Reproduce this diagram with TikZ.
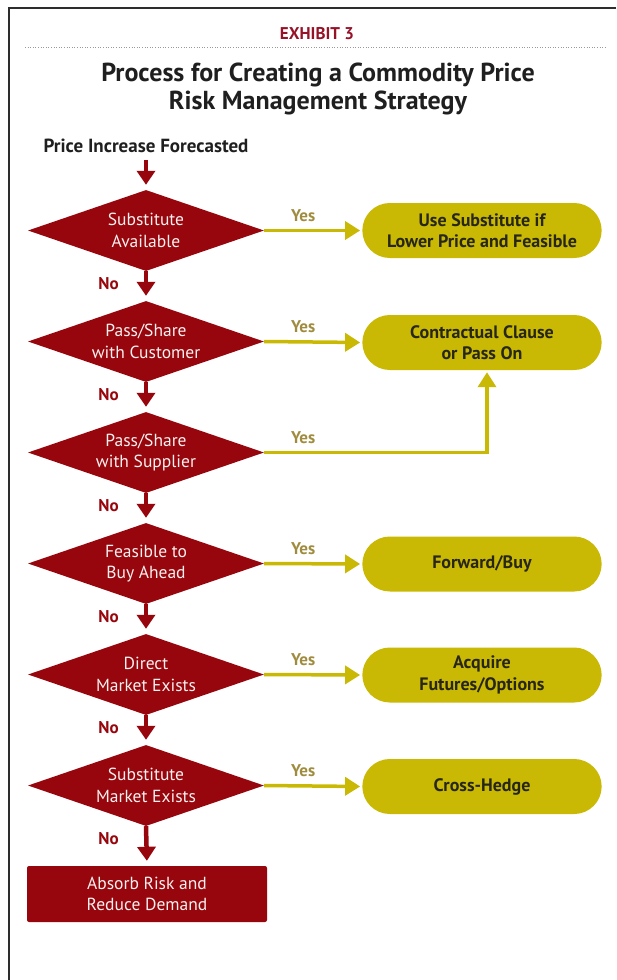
\documentclass[tikz,border=0pt]{standalone}
\usepackage{fontspec}
\setmainfont{PT Sans}
\usetikzlibrary{shapes.geometric,shapes.misc,arrows.meta}
\definecolor{riskred}{RGB}{150,6,12}
\definecolor{gold}{RGB}{201,185,4}
\definecolor{yesgold}{RGB}{160,140,62}
\definecolor{boxtext}{RGB}{40,38,22}
\definecolor{frame}{RGB}{45,45,45}
\definecolor{exhibit}{RGB}{150,18,40}
\tikzset{
  decision/.style={shape=diamond, fill=riskred, draw=none, inner sep=0pt,
    aspect=2.9, minimum width=236pt, minimum height=81pt,
    text=white!94!riskred, align=center, font=\fontsize{17.5}{21.5}\selectfont},
  outcome/.style={rounded rectangle, fill=gold, draw=none,
    minimum width=246pt, minimum height=55pt, text=boxtext, align=center,
    font=\bfseries\fontsize{18}{21.5}\selectfont},
  endbox/.style={rectangle, rounded corners=2pt, fill=riskred, draw=none,
    minimum width=240pt, minimum height=56pt, text=white!94!riskred,
    align=center, font=\fontsize{17.5}{21.5}\selectfont},
  noarrow/.style={draw=riskred, line width=4.5pt,
    -{Triangle[width=18pt,length=14pt]}, shorten >=5pt},
  yesarrow/.style={draw=gold, line width=3.5pt,
    -{Triangle[width=18pt,length=15pt]}, shorten >=2pt},
  nolabel/.style={text=riskred, font=\bfseries\fontsize{17}{18}\selectfont},
  yeslabel/.style={text=yesgold, font=\bfseries\fontsize{17}{18}\selectfont},
}
\begin{document}
\begin{tikzpicture}[x=1pt,y=-1pt]
\useasboundingbox (0,0) rectangle (616,980);
% frame
\draw[frame, line width=1.6pt] (616,8) -- (9,8) -- (9,980);
% header
\node[text=exhibit, font=\bfseries\fontsize{17}{18}\selectfont] (exhibit) at (317,34) {EXHIBIT 3};
\draw[gray!80, line width=1pt, dash pattern=on 1pt off 1.6pt] (25,47) -- (607,47);
\node[text=black!88, align=center, font=\bfseries\fontsize{26}{28}\selectfont] (title) at (318,89)
  {Process for Creating a Commodity Price\\Risk Management Strategy};
\node[text=black!88, font=\bfseries\fontsize{19}{20}\selectfont] (start) at (146,146) {Price Increase Forecasted};

% decisions
\node[decision] (d1) at (146,230.5) {Substitute\\Available};
\node[decision] (d2) at (146,341.5) {Pass/Share\\with Customer};
\node[decision] (d3) at (146,452.5) {Pass/Share\\with Supplier};
\node[decision] (d4) at (146,563.5) {Feasible to\\Buy Ahead};
\node[decision] (d5) at (146,674.5) {Direct\\Market Exists};
\node[decision] (d6) at (146,785.5) {Substitute\\Market Exists};
\node[endbox] (absorb) at (147,894) {Absorb Risk and\\Reduce Demand};

% outcomes
\node[outcome] (o1) at (482,230.5) {Use Substitute if\\Lower Price and Feasible};
\node[outcome] (o2) at (482,342.5) {Contractual Clause\\or Pass On};
\node[outcome] (o4) at (482,564) {Forward/Buy};
\node[outcome] (o5) at (482,675) {Acquire\\Futures/Options};
\node[outcome] (o6) at (482,786.5) {Cross-Hedge};

% "No" path
\draw[noarrow] (start.south) ++(0,4) coordinate (s0) -- (d1.north);
\draw[noarrow] (d1.south) -- (d2.north);
\draw[noarrow] (d2.south) -- (d3.north);
\draw[noarrow] (d3.south) -- (d4.north);
\draw[noarrow] (d4.south) -- (d5.north);
\draw[noarrow] (d5.south) -- (d6.north);
\draw[noarrow] (d6.south) -- (absorb.north);
\foreach \d in {1,...,6} {
  \node[nolabel] (no\d) at ([xshift=-37.5pt,yshift=-12.5pt]d\d.south) {No};
}

% "Yes" path
\draw[yesarrow] (d1.east) -- (o1.west);
\draw[yesarrow] (d2.east) -- (o2.west);
\draw[yesarrow] (d3.east) -| ([xshift=5pt]o2.south);
\draw[yesarrow] (d4.east) -- (o4.west);
\draw[yesarrow] (d5.east) -- (o5.west);
\draw[yesarrow] (d6.east) -- (o6.west);
\foreach \d in {1,...,6} {
  \node[yeslabel] (yes\d) at ([xshift=39pt,yshift=15pt]d\d.east) {Yes};
}
\end{tikzpicture}
\end{document}
